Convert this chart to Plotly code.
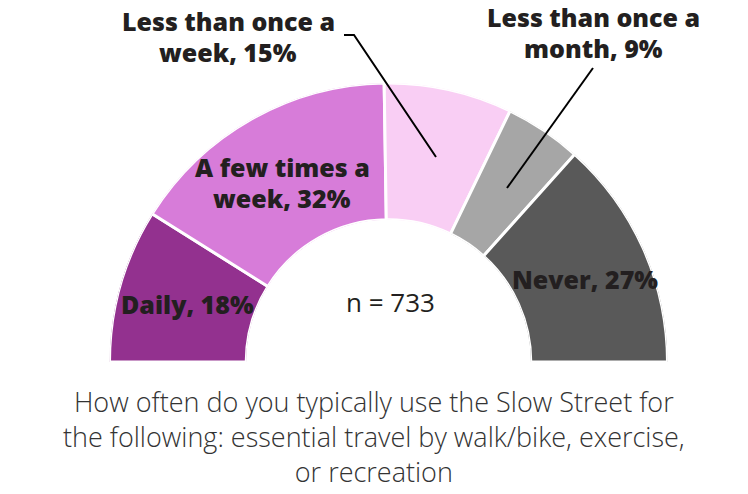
import plotly.graph_objects as go

# survey answers (percent of respondents)
categories = ["Daily", "A few times a week", "Less than once a week",
              "Less than once a month", "Never"]
values = [18, 32, 15, 9, 27]
colors = ["#93318F", "#D77CD9", "#F9CEF4", "#A6A6A6", "#595959"]
n_resp = 733
question = ("How often do you typically use the Slow Street for<br>"
            "the following: essential travel by walk/bike, exercise,<br>"
            "or recreation")

W, H = 748, 494


def px(x, y):
    # pixel position -> paper coordinates
    return x / W, 1 - y / H


# spread the answers over a half circle
scale = 180.0 / sum(values)
widths, mids = [], []
start = 0.0
for v in values:
    widths.append(v * scale)
    mids.append(start + v * scale / 2)
    start += v * scale

fig = go.Figure(go.Barpolar(
    r=[1] * len(values),
    theta=mids,
    width=widths,
    marker=dict(color=colors, line=dict(color="white", width=3)),
    text=categories,
    hoverinfo="text",
    showlegend=False,
))

x0, y1 = px(109.5, 83)
x1, y0 = px(667.5, 362)
fig.update_layout(
    width=W, height=H,
    margin=dict(l=0, r=0, t=0, b=0),
    paper_bgcolor="white",
    polar=dict(
        domain=dict(x=[x0, x1], y=[y0, y1]),
        sector=[0, 180],
        hole=0.51,
        bgcolor="white",
        radialaxis=dict(range=[0, 1], visible=False),
        angularaxis=dict(rotation=180, direction="clockwise", visible=False),
    ),
)

label_font = dict(family="Open Sans", size=25, color="#231F20", weight=800)
labels = [
    ("Less than once a", 228, 21), ("week, 15%", 228, 52),
    ("Less than once a", 593, 17), ("month, 9%", 593, 48),
    ("A few times a", 282, 167), ("week, 32%", 282, 198),
    ("Daily, 18%", 187, 304),
    ("Never, 27%", 585, 279),
]
for txt, lx, ly in labels:
    ax, ay = px(lx, ly)
    fig.add_annotation(x=ax, y=ay, xref="paper", yref="paper", text=txt,
                       showarrow=False, font=label_font,
                       xanchor="center", yanchor="middle")

cx, cy = px(390, 302)
fig.add_annotation(x=cx, y=cy, xref="paper", yref="paper",
                   text="n = %d" % n_resp, showarrow=False,
                   font=dict(family="Open Sans", size=26, color="#231F20"),
                   xanchor="center", yanchor="middle")

tx, ty = px(374, 436)
fig.add_annotation(x=tx, y=ty, xref="paper", yref="paper", text=question,
                   showarrow=False, align="center",
                   font=dict(family="Open Sans", size=27, color="#333333",
                             weight=300),
                   xanchor="center", yanchor="middle")

# leader lines for the two small slices
def leader(points):
    pts = [px(a, b) for a, b in points]
    path = "M " + " L ".join("%f,%f" % p for p in pts)
    fig.add_shape(type="path", path=path, xref="paper", yref="paper",
                  line=dict(color="black", width=2))

leader([(344, 35), (354, 35), (436, 157)])
leader([(593, 68), (507, 188)])

fig.write_html("out.html", config={"displayModeBar": False},
               post_script="document.body.style.margin='0';")
